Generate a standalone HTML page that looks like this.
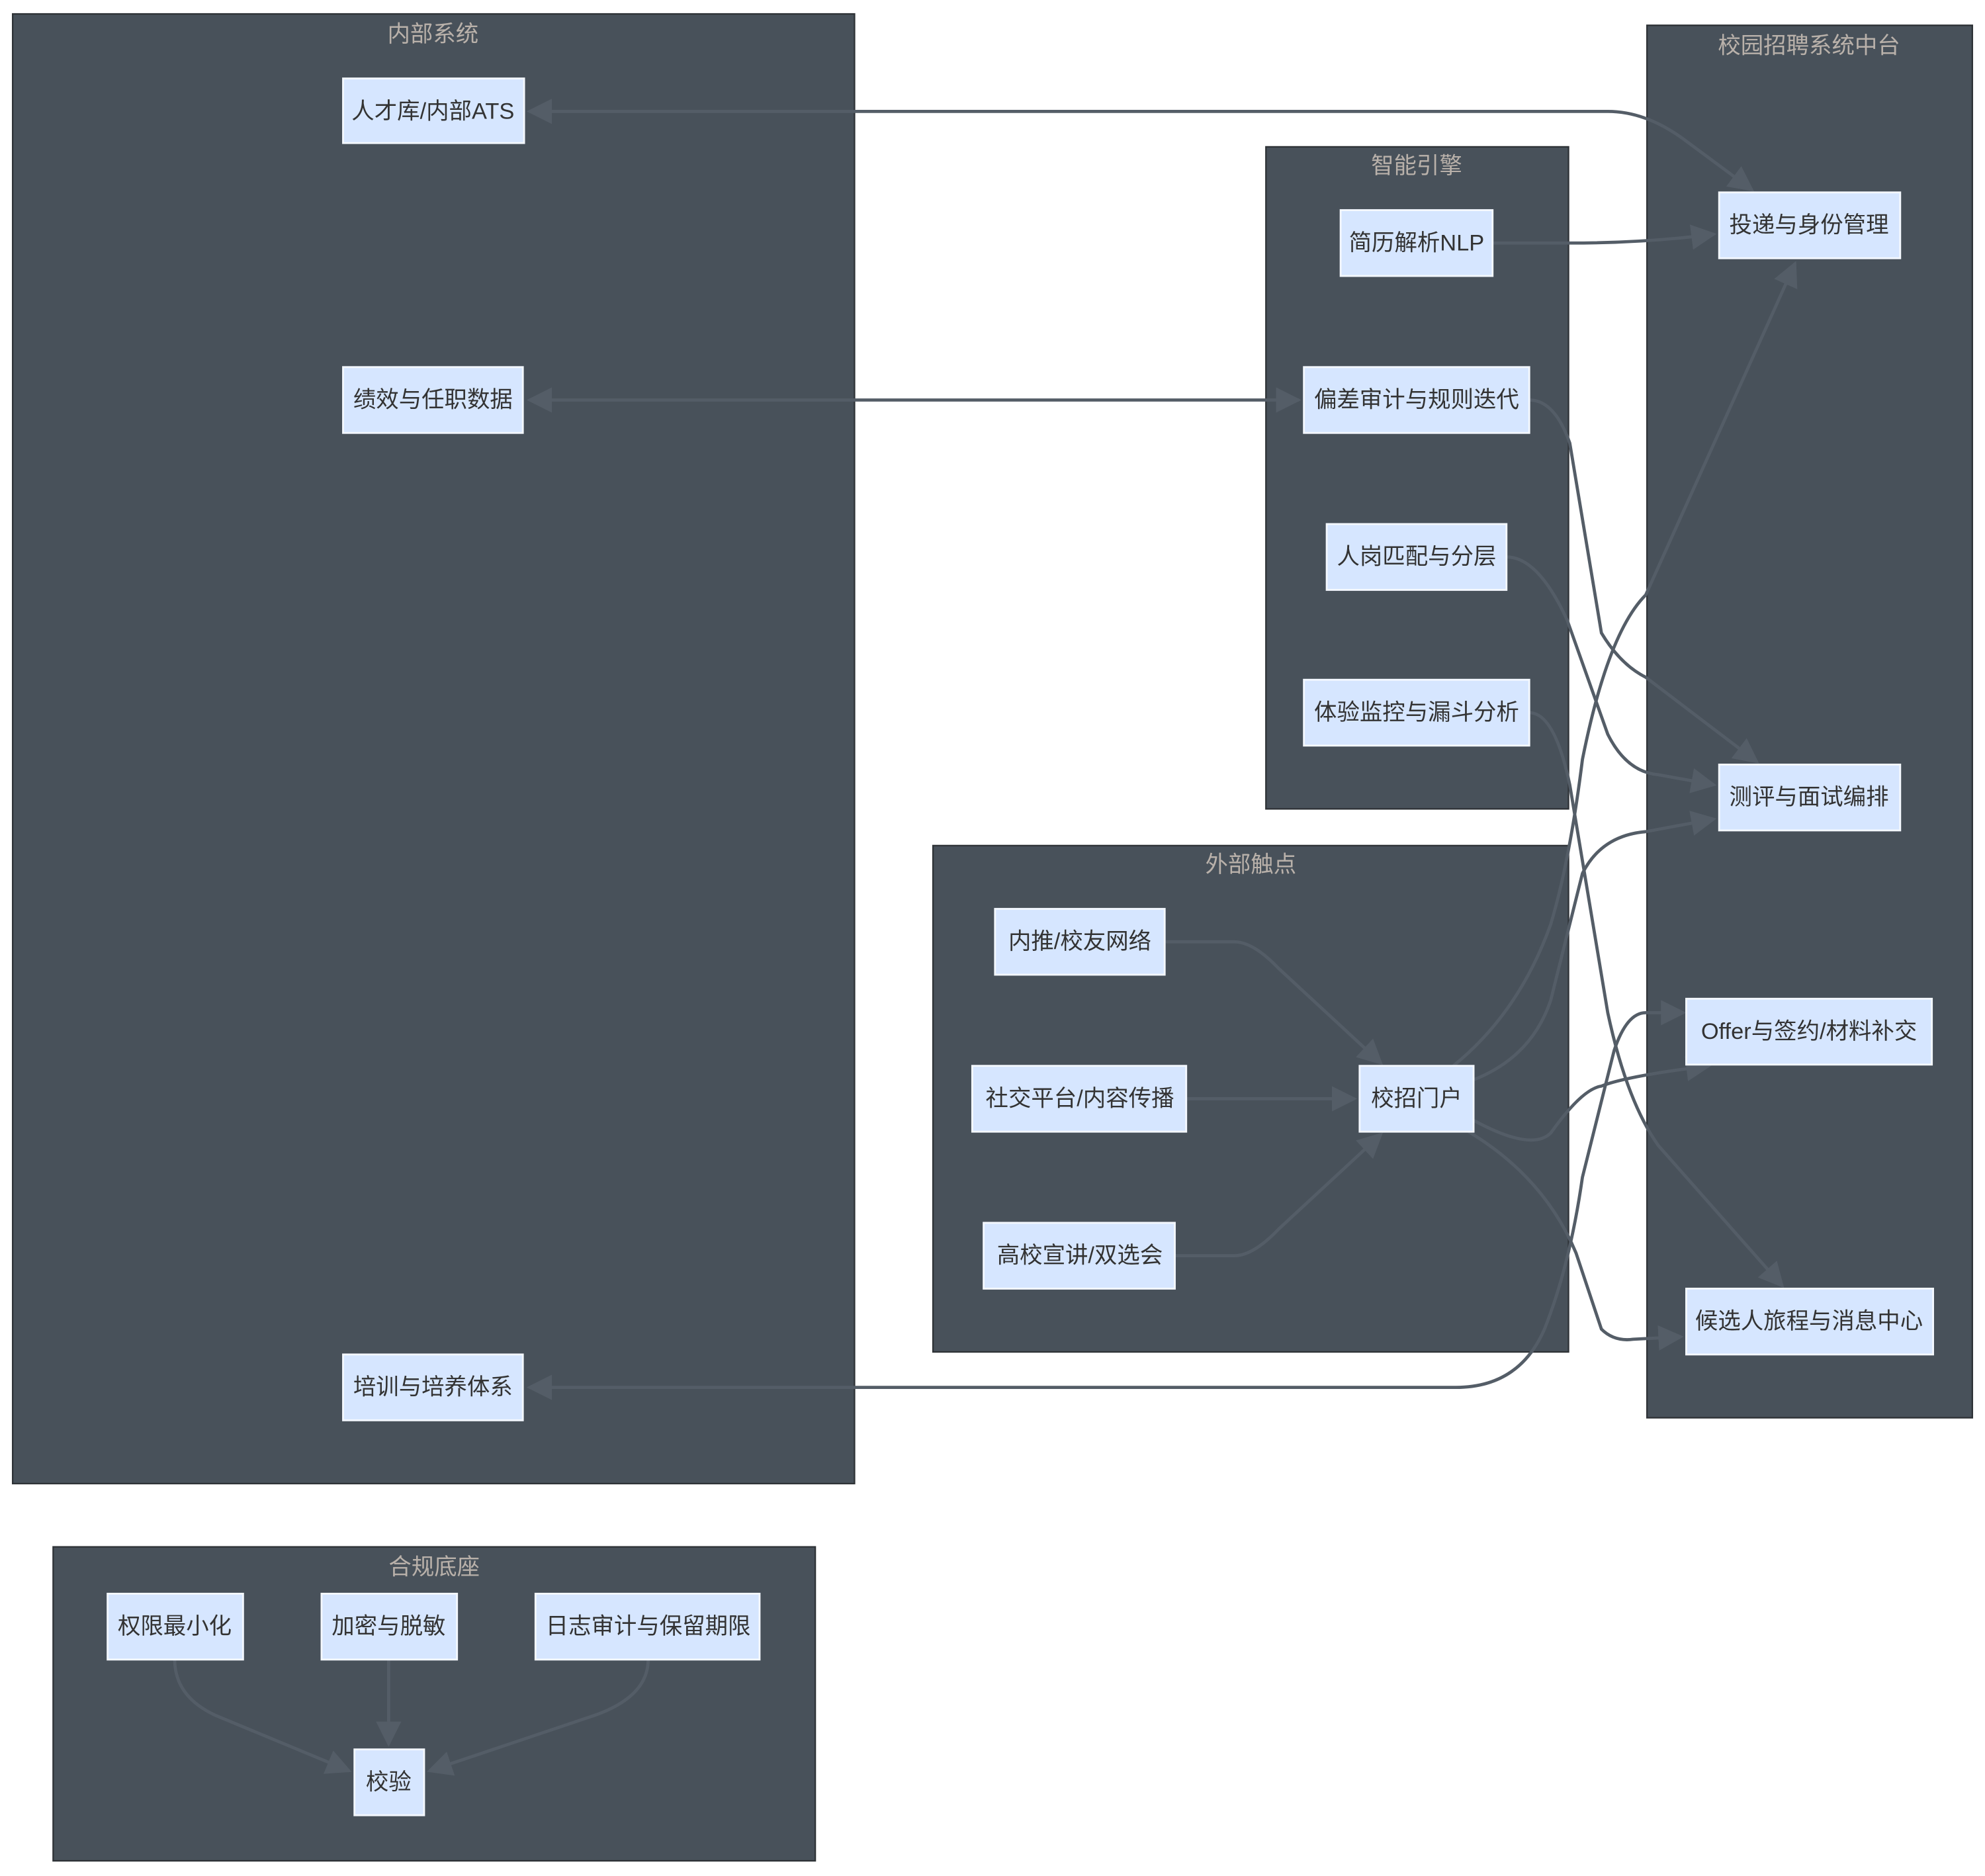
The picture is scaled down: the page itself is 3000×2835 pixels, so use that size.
<!DOCTYPE html>
<html><head><meta charset="utf-8"><style>
html,body{margin:0;padding:0;background:#fff;}
svg{display:block;}
text{font-family:"Liberation Sans","Noto Sans CJK SC",sans-serif;}
.c{fill:#48515a;stroke:#2e3236;stroke-width:1.2;}
.ct{fill:#b9b1aa;font-size:18px;text-anchor:middle;}
.n{fill:#d6e6ff;stroke:#f4f8ff;stroke-width:1.5;}
.nt{fill:#333;font-size:18px;text-anchor:middle;dominant-baseline:central;}
.e{fill:none;stroke:#545d67;stroke-width:2.5;}
</style></head><body>
<svg width="3000" height="2835" viewBox="0 0 1568 1482" preserveAspectRatio="none" xmlns="http://www.w3.org/2000/svg">
<defs>
<marker id="a" viewBox="0 0 10 10" refX="9" refY="5" markerWidth="7" markerHeight="7" markerUnits="userSpaceOnUse" orient="auto-start-reverse"><path d="M0,0 L10,5 L0,10 z" fill="#545d67"/></marker>
<marker id="b" viewBox="0 0 10 10" refX="9" refY="5" markerWidth="8" markerHeight="8" orient="auto-start-reverse"><path d="M0,0 L10,5 L0,10 z" fill="#545d67"/></marker>
</defs>
<!-- clusters -->
<rect class="c" x="10" y="11" width="665" height="1161"/><text class="ct" x="342" y="33">内部系统</text>
<rect class="c" x="1301" y="20" width="257" height="1100"/><text class="ct" x="1429" y="42">校园招聘系统中台</text>
<rect class="c" x="1000" y="116" width="239" height="523"/><text class="ct" x="1119" y="137">智能引擎</text>
<rect class="c" x="737" y="668" width="502" height="400"/><text class="ct" x="988" y="689">外部触点</text>
<rect class="c" x="42" y="1222" width="602" height="248"/><text class="ct" x="343" y="1244">合规底座</text>

<!-- edges -->
<path class="e" d="M418,88 L1270,88 Q1300,88 1330,110 L1384,150" marker-start="url(#b)" marker-end="url(#b)"/>
<path class="e" d="M418,316 L1026,316" marker-start="url(#b)" marker-end="url(#b)"/>
<path class="e" d="M1179,192 L1240,192 Q1300,192 1354,185" marker-end="url(#b)"/>
<path class="e" d="M1208,316 Q1228,316 1240,350 L1265,500 Q1280,525 1300,535 L1388,602" marker-end="url(#b)"/>
<path class="e" d="M1190,440 Q1215,440 1238,490 L1270,580 Q1285,610 1310,612 L1354,620" marker-end="url(#b)"/>
<path class="e" d="M1208,563 Q1228,563 1240,620 L1270,800 Q1285,870 1310,905 L1408,1016" marker-end="url(#b)"/>
<path class="e" d="M920,744 L975,744 Q990,744 1010,765 L1091,840" marker-end="url(#b)"/>
<path class="e" d="M937,868 L1070,868" marker-end="url(#b)"/>
<path class="e" d="M928,992 L975,992 Q990,992 1010,971 L1091,896" marker-end="url(#b)"/>
<path class="e" d="M1148,842 Q1200,800 1225,730 Q1240,680 1250,600 Q1270,500 1300,470 L1418,208" marker-end="url(#b)"/>
<path class="e" d="M1164,853 Q1210,835 1225,790 L1250,690 Q1265,660 1300,657 L1354,647" marker-end="url(#b)"/>
<path class="e" d="M1164,885 Q1210,910 1225,895 Q1250,860 1265,858 Q1285,850 1350,842" marker-end="url(#b)"/>
<path class="e" d="M1160,894 Q1220,930 1245,990 L1265,1050 Q1275,1060 1290,1058 L1328,1056" marker-end="url(#b)"/>
<path class="e" d="M418,1096 L1150,1096 Q1200,1096 1220,1050 Q1240,1000 1250,930 L1275,830 Q1285,800 1300,800 L1330,800" marker-start="url(#b)" marker-end="url(#b)"/>
<path class="e" d="M138,1311 Q138,1340 170,1355 L276,1399" marker-end="url(#b)"/>
<path class="e" d="M307,1311 L307,1378" marker-end="url(#b)"/>
<path class="e" d="M512,1311 Q512,1340 470,1355 L339,1399" marker-end="url(#b)"/>

<!-- nodes -->
<g>
<rect class="n" x="271" y="62" width="143" height="51"/><text class="nt" x="342" y="88">人才库/内部ATS</text>
<rect class="n" x="271" y="290" width="142" height="52"/><text class="nt" x="342" y="316">绩效与任职数据</text>
<rect class="n" x="271" y="1070" width="142" height="52"/><text class="nt" x="342" y="1096">培训与培养体系</text>
<rect class="n" x="1059" y="166" width="120" height="52"/><text class="nt" x="1119" y="192">简历解析NLP</text>
<rect class="n" x="1030" y="290" width="178" height="52"/><text class="nt" x="1119" y="316">偏差审计与规则迭代</text>
<rect class="n" x="1048" y="414" width="142" height="52"/><text class="nt" x="1119" y="440">人岗匹配与分层</text>
<rect class="n" x="1030" y="537" width="178" height="52"/><text class="nt" x="1119" y="563">体验监控与漏斗分析</text>
<rect class="n" x="1358" y="152" width="143" height="52"/><text class="nt" x="1429" y="178">投递与身份管理</text>
<rect class="n" x="1358" y="604" width="143" height="52"/><text class="nt" x="1429" y="630">测评与面试编排</text>
<rect class="n" x="1332" y="789" width="194" height="52"/><text class="nt" x="1429" y="815">Offer与签约/材料补交</text>
<rect class="n" x="1332" y="1018" width="195" height="52"/><text class="nt" x="1429" y="1044">候选人旅程与消息中心</text>
<rect class="n" x="786" y="718" width="134" height="52"/><text class="nt" x="853" y="744">内推/校友网络</text>
<rect class="n" x="768" y="842" width="169" height="52"/><text class="nt" x="853" y="868">社交平台/内容传播</text>
<rect class="n" x="777" y="966" width="151" height="52"/><text class="nt" x="853" y="992">高校宣讲/双选会</text>
<rect class="n" x="1074" y="842" width="90" height="52"/><text class="nt" x="1119" y="868">校招门户</text>
<rect class="n" x="85" y="1259" width="107" height="52"/><text class="nt" x="138" y="1285">权限最小化</text>
<rect class="n" x="254" y="1259" width="107" height="52"/><text class="nt" x="307" y="1285">加密与脱敏</text>
<rect class="n" x="423" y="1259" width="177" height="52"/><text class="nt" x="512" y="1285">日志审计与保留期限</text>
<rect class="n" x="280" y="1382" width="55" height="52"/><text class="nt" x="307" y="1408">校验</text>
</g>
</svg>
</body></html>
